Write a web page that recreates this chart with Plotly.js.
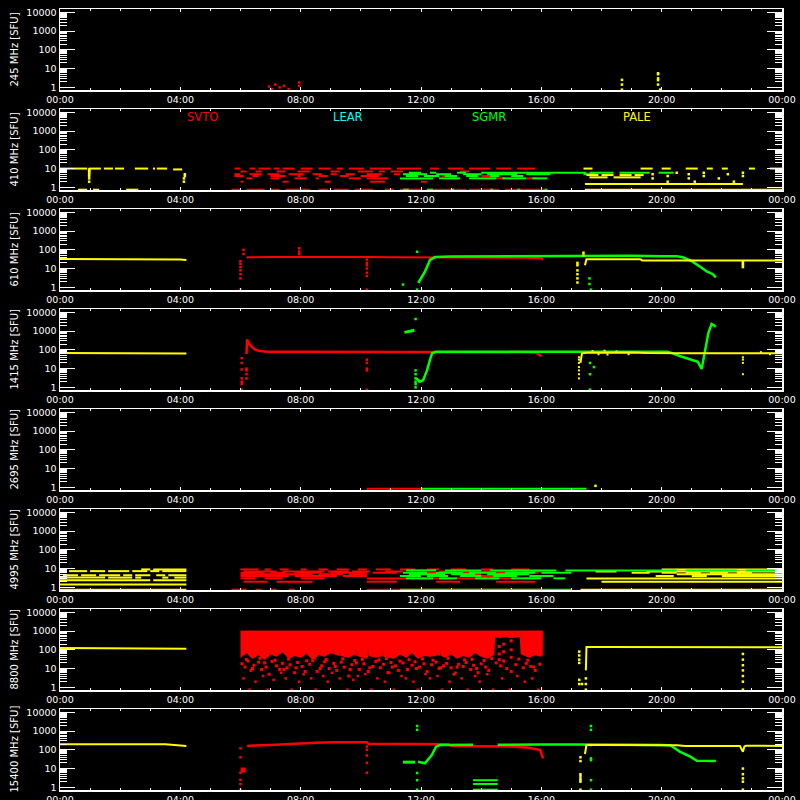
<!DOCTYPE html>
<html><head><meta charset="utf-8">
<script src="https://cdn.plot.ly/plotly-3.0.1.min.js"></script>
<style>html,body{margin:0;padding:0;background:#000;} #chart{width:800px;height:800px;}</style>
</head><body><div id="chart"></div>
<script>
// ---------------- axis / label data ----------------
const freqLabels = ['245 MHz [SFU]','410 MHz [SFU]','610 MHz [SFU]','1415 MHz [SFU]','2695 MHz [SFU]','4995 MHz [SFU]','8800 MHz [SFU]','15400 MHz [SFU]'];
const tickHours = [0,4,8,12,16,20,24];
const tickLabels = ['00:00','04:00','08:00','12:00','16:00','20:00','00:00'];
const yTickVals = [1,10,100,1000,10000];
const yTickText = ['1','10','100','1000','10000'];
const stationNames = ['SVTO','LEAR','SGMR','PALE'];
const stationHours = [4.75,9.57,14.27,19.17];

// ---------------- 245 MHz ----------------
const f245_svto_t = [6.95,7.05,7.15,7.3,7.45,7.6,7.95,7.95];
const f245_svto_v = [1.1,0.8,1.4,1.0,1.2,0.8,1.8,1.2];
const f245_pale_t = [18.68,18.68,18.68,19.88,19.88,19.88,19.88,19.88,19.95];
const f245_pale_v = [2.5,1.4,0.75,5.6,5.0,3.0,2.4,1.4,0.75];

// ---------------- 410 MHz (segments: start, end, value) ----------------
const f410_pale_s = [0.00,0.96,1.46,1.83,2.49,2.76,3.09,3.22,3.76,17.40,19.30,20.00,20.80,21.50,22.00,22.90,23.60,0.60,1.10,2.20,17.45,17.50,18.00,18.60,19.10,17.60,18.40,17.45];
const f410_pale_e = [0.90,1.36,1.76,2.13,2.76,2.93,3.16,3.56,4.06,17.70,19.70,20.30,21.20,21.70,22.20,23.10,24.00,0.90,1.30,2.60,24.00,17.90,18.40,19.00,19.40,18.20,19.30,22.70];
const f410_pale_v = [10,10,10,10,10,10,10,10,9,10,10,10,10,10,10,10,10,0.75,0.75,0.75,0.75,4.5,4.5,4.5,4.5,3.4,3.4,1.5];
const f410_paleDot_t = [0.97,0.97,0.97,0.97,0.97,0.97,0.97,0.97,4.12,4.12,4.15,4.15,19.7,19.7,20.2,20.2,20.5,20.9,20.9,21.1,21.4,21.4,21.9,22.2,22.4,22.7,22.7];
const f410_paleDot_v = [2,3,4,5,6,7,8,9,2,3,4,5,3,5,2,4,6,3,5,2,4,6,3,5,2,4,6];
const f410_svto_s = [5.8,6.3,6.6,7.1,7.4,8.0,8.6,9.2,9.6,10.3,11.2,12.3,12.9,13.6,14.5,15.2, 6.0,6.5,7.2,7.9,9.0,9.9,10.6,11.0,13.3, 5.8,6.3,6.9,7.6,8.4,9.0,9.5,10.2,11.1, 5.8,6.4,7.0,7.9,8.6,9.3,10.0,12.7,14.0,15.0, 6.2,7.0,7.8,8.5,9.6,10.2,13.0,14.3,15.5, 6.0,7.4,8.8,10.3,12.0, 5.7,6.2,7.0,7.5,8.6,9.1,9.8,10.8,11.3,12.3,13.6,14.8];
const f410_svto_e = [6.0,6.5,7.0,7.3,7.8,8.4,9.0,9.4,10.1,11.0,12.0,12.6,13.4,14.3,15.0,15.8, 6.2,6.7,7.5,8.3,9.3,10.4,10.8,11.4,13.6, 6.0,6.7,7.3,8.1,8.7,9.2,9.8,10.7,11.3, 6.1,6.6,7.5,8.0,8.9,9.6,10.6,13.0,14.4,15.3, 6.4,7.3,8.2,8.6,10.0,10.9,13.2,14.8,15.9, 6.1,7.6,9.0,10.8,12.2, 6.0,6.8,7.3,8.3,8.9,9.6,10.4,11.1,12.0,13.5,14.6,16.1];
const f410_svto_v = [10,10,10,10,10,10,10,10,10,10,10,10,10,10,10,10, 7,7,7,7,7,7,7,7,7, 5,5,5,5,5,5,5,5,5, 4,4,4,4,4,4,4,4,4,4, 3,3,3,3,3,3,3,3,3, 2,2,2,2,2, 0.75,0.75,0.75,0.75,0.75,0.75,0.75,0.75,0.75,0.75,0.75,0.75];
const f410_sgmr_s = [11.6,12.3,13.2,14.0,17.6,18.6,19.9, 11.4,12.5,13.4,14.2,15.5,17.4, 11.5,12.1,12.8,13.5,14.3,15.0, 11.3,12.6,13.6,14.7,15.7, 11.4,12.2,13.0,14.3,15.2,16.1];
const f410_sgmr_e = [12.0,12.5,13.5,17.5,18.4,19.6,20.4, 12.2,13.0,14.0,15.2,16.3,17.8, 11.9,12.6,13.2,13.9,14.6,15.4, 12.4,13.3,14.5,15.5,16.2, 11.6,12.4,13.1,14.4,15.3,16.2];
const f410_sgmr_v = [6,6,6,6,6,6,6, 5,5,5,5,5,5, 4,4,4,4,4,4, 3,3,3,3,3, 0.75,0.75,0.75,0.75,0.75,0.75];

// ---------------- 610 MHz ----------------
const f610_pale1_t = [0,1,2,3,3.5,4.0,4.2];
const f610_pale1_v = [32,32,32,31,31,30,29];
const f610_svto_t = [6.2,6.25,7.0,8.0,9.0,10.2,10.25,11,12,13,14,15,15.5,16.0,16.06];
const f610_svto_v = [38,40,41,42,41,42,41,40,40,41,41,39,38,35,30];
const f610_svtoDot_t = [6.0,6.0,6.0,6.0,6.0,6.0,6.1,6.1,7.95,7.95,7.95,10.2,10.2,10.2,10.2,10.2,10.2,10.2,6.0];
const f610_svtoDot_v = [3,5,8,12,18,25,100,60,120,80,60,30,20,15,10,6,4,0.75,0.75];
const f610_sgmr_t = [11.91,12.13,12.3,12.47,13,14,15,16,17,18,19,20,20.5,20.7,21.0,21.28,21.5,21.7,21.8];
const f610_sgmr_v = [1.7,6.8,29,41,44,45,46,46,47,48,48,46,45,40,25,12.6,7,5,3.4];
const f610_sgmrDot_t = [11.4,11.87,11.87,17.6,17.6,17.65];
const f610_sgmrDot_v = [1.4,0.75,79,3,1.5,0.75];
const f610_pale2_t = [17.45,17.5,18,19,19.3,19.35,20,21,22,22.7,23,24];
const f610_pale2_v = [15,31,31,31,31,27,27,27,27,27,27,27];
const f610_paleDot_t = [17.2,17.2,17.2,17.2,17.2,17.2,17.4,17.4,22.7,22.7,22.7,22.7];
const f610_paleDot_v = [20,15,8,5,3,1.8,70,50,22,18,15,12];

// ---------------- 1415 MHz ----------------
const f1415_pale1_t = [0,1,2,3,3.3,3.5,4.0,4.2];
const f1415_pale1_v = [68,68,69,68,68,66,66,64];
const f1415_svto_t = [6.2,6.22,6.3,6.4,6.5,6.6,6.8,7,8,9,10,10.2,10.3,11,12,13,14,15,15.8,16.0];
const f1415_svto_v = [60,350,200,130,100,90,82,78,78,78,78,78,76,77,77,76,76,76,75,45];
const f1415_svtoDot_t = [6.04,6.04,6.04,6.04,6.04,6.04,6.04,6.2,6.2,6.2,6.2,10.2,10.2,10.2,10.2,10.2];
const f1415_svtoDot_v = [0.75,1.5,2,3,9,20,36,3,5,8,10,30,20,10,8,0.75];
const f1415_sgmrHi_t = [11.45,11.55,11.65,11.78];
const f1415_sgmrHi_v = [850,900,1000,1100];
const f1415_sgmr_t = [11.85,11.95,12.07,12.2,12.3,12.37,12.5,13,14,15,16,17,18,19,20,20.2,20.6,20.95,21.2,21.33,21.44,21.55,21.66,21.8];
const f1415_sgmr_v = [3,2,2.4,8,30,65,78,80,80,80,80,80,80,80,80,80,47,31,23,9.5,79,760,2400,1700];
const f1415_sgmrDot_t = [11.82,11.82,11.82,11.82,11.82,11.82,11.82,17.62,17.62,17.62,17.75];
const f1415_sgmrDot_v = [1,1.5,2,3,5,8,4400,20,5,0.75,12];
const f1415_pale2_t = [17.3,17.35,17.5,18,19,19.5,20,21,22,22.7,23,23.5,24];
const f1415_pale2_v = [20,65,70,72,72,68,66,66,66,66,66,66,65];
const f1415_paleDot_t = [17.25,17.25,17.25,17.25,17.25,17.25,17.25,22.7,22.7,22.7,22.7,17.7,17.9,18.1,18.2,18.5,18.9,23.3,23.6,23.8];
const f1415_paleDot_v = [40,30,20,12,8,5,3,40,30,20,5,85,58,90,56,82,58,75,58,72];

// ---------------- 2695 MHz ----------------
const f2695_svto_t = [10.2,12.0];
const f2695_svto_v = [0.85,0.85];
const f2695_sgmr_t = [12.0,17.5];
const f2695_sgmr_v = [0.85,0.85];
const f2695_paleDot_t = [17.8];
const f2695_paleDot_v = [1.2];

// ---------------- 4995 MHz (segments) ----------------
const f4995_pale_s = [0.3,1.0,1.6,2.4,3.0,3.4, 0.0,2.7,3.1, 0.1,0.7,1.3,2.1,2.5,3.2,3.6, 0.0,1.6,2.5,3.4,3.8, 0.0,3.1, 0.0, 0.0, 20.0, 17.8,19.5, 19.0,20.0,20.8,21.6,22.5, 20.5, 19.8,21.0,22.0, 17.5, 18.0, 17.3];
const f4995_pale_e = [0.9,1.5,2.3,2.9,3.3,4.2, 0.2,3.0,4.2, 0.6,1.2,2.0,2.4,3.0,3.5,4.2, 1.5,2.4,2.7,3.6,4.2, 3.0,4.2, 4.2, 4.2, 24.0, 18.5,24.0, 19.6,20.5,21.3,22.2,23.0, 24.0, 20.4,21.5,24.0, 24.0, 24.0, 24.0];
const f4995_pale_v = [7.3,7.3,7.3,7.3,7.3,7.3, 9,9,9, 4.4,4.4,4.4,4.4,4.4,4.4,4.4, 3.3,3.3,3.3,3.3,3.3, 2.4,2.4, 1.4, 0.75, 9, 7,7, 6,6,6,6,6, 5, 4,4,4, 3, 2, 0.75];
const f4995_svto_s = [6.0,6.8,7.3,8.0,8.6,9.2,9.9,10.5,11.3,12.2,13.0,14.0,15.0, 6.1,7.4,8.9,9.7,10.8,12.6,13.4,14.5,15.4, 6.0,7.0,7.8,9.0,10.4,11.6,12.8,14.2,15.2, 6.0,8.6,9.6,11.8,13.4,14.6, 6.0,7.8,9.4,13.6, 6.0,6.8,8.0,10.2,11.9,13.2,14.3,15.4, 6.1,7.2,10.2,12.5,14.5, 5.7,6.5,7.0,7.6,10.2];
const f4995_svto_e = [6.6,7.0,7.6,8.2,8.9,9.6,10.2,11.0,11.8,12.6,13.5,14.4,15.6, 7.2,8.8,9.6,10.3,11.4,13.2,14.3,15.2,16.0, 6.8,7.5,8.7,10.2,11.2,12.5,13.9,14.9,15.9, 8.4,9.4,10.2,12.3,14.0,15.5, 7.6,9.2,10.2,14.8, 6.5,7.4,8.8,11.8,13.0,14.2,15.2,16.0, 6.9,8.4,11.2,13.3,15.8, 6.2,6.7,7.2,7.8,16.0];
const f4995_svto_v = [9,9,9,9,9,9,9,9,9,9,9,9,9, 7,7,7,7,7,7,7,7,7, 6,6,6,6,6,6,6,6,6, 5,5,5,5,5,5, 4,4,4,4, 3,3,3,3,3,3,3,3, 2,2,2,2,2, 0.75,0.75,0.75,0.75,0.75];
const f4995_sgmr_s = [11.5,12.8,14.3,16.8,20.8,22.8, 11.4,12.5,13.6,14.8,16.0, 11.6,13.0,14.2, 11.3,12.2,13.3,14.4,15.6, 11.5,12.6,13.8,15.0,16.4, 11.3];
const f4995_sgmr_e = [12.5,14.0,16.5,20.5,22.5,24.0, 12.2,13.4,14.5,15.8,17.0, 12.8,13.8,15.6, 12.0,12.9,14.0,15.2,16.4, 12.4,13.2,14.6,16.0,16.8, 17.0];
const f4995_sgmr_v = [8,8,8,8,8,8, 6,6,6,6,6, 5,5,5, 4,4,4,4,4, 3,3,3,3,3, 0.75];

// ---------------- 8800 MHz ----------------
const f8800_pale1_t = [0,1,2,3,3.5,4,4.2];
const f8800_pale1_v = [125,125,125,122,120,118,115];
const f8800_svtoTop_t = [6.0,16.05];
const f8800_svtoTop_v = [1000,1000];
const f8800_svtoLow_t = [6.0,6.2,6.4,6.6,6.8,7.0,7.2,7.4,7.6,7.8,8.0,8.2,8.4,8.6,8.8,9.0,9.08,9.1,9.12,9.28,9.3,9.32,9.6,9.8,9.83,9.85,9.87,10.0,10.2,10.23,10.25,10.27,10.5,10.7,10.73,10.75,10.77,11.1,11.3,11.5,11.7,11.9,12.1,12.3,12.6,12.63,12.65,12.67,12.8,13.0,13.2,13.4,13.6,13.8,14.0,14.2,14.42,14.45,14.6,14.8,15.0,15.3,15.33,15.6,15.8,16.0,16.05];
const f8800_svtoLow_v = [40,70,35,55,30,60,45,80,35,50,40,65,30,55,45,70,60,300,60,50,400,50,40,60,50,350,50,45,35,50,400,50,40,50,45,300,45,35,60,40,70,35,50,45,55,50,300,50,40,60,35,50,40,70,45,35,55,500,450,500,450,500,60,40,55,45,60];
const f8800_svtoDot_t = [6.05,6.15,6.25,6.35,6.45,6.6,6.7,6.8,6.95,7.05,7.2,7.3,7.4,7.55,7.65,7.8,7.9,8.05,8.15,8.3,8.4,8.55,8.7,8.8,8.95,9.1,9.2,9.35,9.45,9.6,9.7,9.85,9.95,10.1,10.25,10.4,10.5,10.65,10.75,10.9,11.0,11.15,11.25,11.4,11.55,11.7,11.8,11.95,12.1,12.2,12.35,12.5,12.6,12.75,12.85,13.0,13.1,13.25,13.4,13.5,13.65,13.75,13.9,14.0,14.15,14.25,14.5,14.65,14.85,15.0,15.15,15.4,15.5,15.65,15.8,15.95];
const f8800_svtoDot_v = [18,12,25,8,15,22,9,20,5,24,14,9,19,11,16,6,21,13,7,17,26,7,14,23,10,19,8,22,12,4,16,20,9,18,7,13,24,11,17,6,21,14,8,20,9,15,23,12,18,7,16,22,10,14,19,11,5,17,13,21,9,15,6,18,12,8,20,14,10,7,16,11,19,13,8,17];
const f8800_svtoDot2_t = [6.1,6.3,6.5,6.75,6.9,7.1,7.35,7.5,7.7,7.95,8.1,8.35,8.5,8.75,8.9,9.05,9.3,9.55,9.75,9.9,10.15,10.35,10.55,10.8,10.95,11.1,11.35,11.5,11.75,11.9,12.15,12.3,12.55,12.7,12.95,13.15,13.35,13.55,13.8,13.95,14.2,14.4,14.7,14.95,15.2,15.45,15.7,15.9];
const f8800_svtoDot2_v = [3,0.75,2,4,0.75,2.5,6,3,0.75,2,5,3,0.75,4,2,6,3,0.75,2.5,4,5,0.75,3,2,6,0.75,4,3,2,0.75,5,3,4,0.75,2,6,3,0.75,4,2,5,0.75,3,0.75,4,2,3,0.75];
const f8800_svtoDot3_t = [6.2,6.4,6.65,6.85,7.15,7.45,7.6,7.85,8.2,8.45,8.65,8.85,9.15,9.4,9.65,9.8,10.05,10.3,10.6,10.85,11.05,11.3,11.6,11.85,12.05,12.4,12.65,12.9,13.2,13.45,13.7,13.85,14.1,14.35,14.6,14.6,14.6,14.75,14.75,14.75,15.0,15.0,15.0,15.25,15.55,15.75];
const f8800_svtoDot3_v = [30,10,35,12,28,9,32,11,26,36,10,30,13,33,9,27,31,11,29,34,12,25,30,10,33,28,11,35,12,29,31,10,27,34,30,60,150,25,80,200,40,100,300,32,28,12];
const f8800_pale2_t = [17.48,17.5,18,19,20,21,22,22.6,22.7,22.8,23,24];
const f8800_pale2_v = [8,140,142,142,142,140,140,140,140,140,140,138];
const f8800_paleDot_t = [17.26,17.26,17.26,17.26,17.26,17.26,17.35,17.48,17.48,17.48,22.7,22.7,22.7,22.7,22.7,22.7,22.7];
const f8800_paleDot_v = [80,50,30,20,2.5,1.5,1.5,3,1.5,0.75,60,30,15,8,4,2,0.75];

// ---------------- 15400 MHz ----------------
const f15400_pale1_t = [0,1,2,3,3.5,3.8,4.0,4.2];
const f15400_pale1_v = [200,200,200,200,195,180,170,160];
const f15400_svto_t = [6.22,6.3,7,7.5,8,8.5,9.08,9.5,10.0,10.2,10.25,11,11.3,12.9,13.0,14,15,15.6,15.96,16.06];
const f15400_svto_v = [160,165,180,200,222,235,250,250,250,250,213,210,204,200,160,160,150,130,97,35];
const f15400_svtoDot_t = [6.0,6.0,6.0,6.0,6.0,6.0,10.2,10.2,10.2,10.2,10.2];
const f15400_svtoDot_v = [120,40,6,2.5,1.5,0.75,150,100,50,20,6];
const f15400_svtoBig_t = [6.09];
const f15400_svtoBig_v = [8.4];
const f15400_sgmr1_t = [11.4,11.8];
const f15400_sgmr1_v = [22,22];
const f15400_sgmr_t = [11.9,12.13,12.36,12.5,12.63,13,13.73,null,14.55,15,16,17,17.5,18,19,20,20.3,20.6,20.95,21.17,21.5,21.8];
const f15400_sgmr_v = [23,19,53,147,180,185,185,null,185,190,190,190,185,185,185,180,170,80,43,26,25,25];
const f15400_sgmrLow_s = [13.73,13.73,13.73];
const f15400_sgmrLow_e = [14.55,14.55,14.55];
const f15400_sgmrLow_v = [2.4,1.5,0.75];
const f15400_sgmrDot_t = [11.87,11.87,11.87,11.87,11.87,17.65,17.65,17.65,17.65,17.65,17.65,17.65];
const f15400_sgmrDot_v = [1860,1160,5.8,2.4,0.75,1860,1160,180,35,28,2.4,0.75];
const f15400_pale2_t = [17.45,17.5,18,19,20,20.5,20.8,21,22,22.6,22.7,22.75,22.8,23,24];
const f15400_pale2_v = [60,180,180,182,182,175,160,160,162,162,79,150,165,165,160];
const f15400_paleDot_t = [17.3,17.3,17.3,17.3,17.3,17.3,17.3,17.3,22.7,22.7,22.7,22.7,22.7];
const f15400_paleDot_v = [40,25,5,4,3,2.4,2,0.75,10,5,3,2,0.75];

// ---------------- build ----------------
const C = {SVTO:'#ff0000', LEAR:'#00ffff', SGMR:'#00ff00', PALE:'#ffff00'};
function ax(p){return p===1?['x','y']:['x'+p,'y'+p];}
function lineT(p,t,v,c,w){const a=ax(p);return {type:'scatter',mode:'lines',x:t,y:v,xaxis:a[0],yaxis:a[1],line:{color:c,width:w||2},hoverinfo:'skip',showlegend:false,connectgaps:false};}
function dotT(p,t,v,c,s){const a=ax(p);return {type:'scatter',mode:'markers',x:t,y:v,xaxis:a[0],yaxis:a[1],marker:{color:c,size:s||2.5,symbol:'square',line:{width:0}},hoverinfo:'skip',showlegend:false};}
function segT(p,s,e,v,c,w){const x=[],y=[];for(let k=0;k<s.length;k++){x.push(s[k],e[k],null);y.push(v[k],v[k],null);}return lineT(p,x,y,c,w||2);}
function fillT(p,t,v,c){const a=ax(p);return {type:'scatter',mode:'lines',x:t,y:v,xaxis:a[0],yaxis:a[1],line:{color:c,width:1},fill:'tonexty',fillcolor:c,hoverinfo:'skip',showlegend:false};}

const traces = [
  dotT(1,f245_svto_t,f245_svto_v,C.SVTO), dotT(1,f245_pale_t,f245_pale_v,C.PALE),
  segT(2,f410_svto_s,f410_svto_e,f410_svto_v,C.SVTO), segT(2,f410_sgmr_s,f410_sgmr_e,f410_sgmr_v,C.SGMR),
  segT(2,f410_pale_s,f410_pale_e,f410_pale_v,C.PALE), dotT(2,f410_paleDot_t,f410_paleDot_v,C.PALE),
  lineT(3,f610_pale1_t,f610_pale1_v,C.PALE), lineT(3,f610_svto_t,f610_svto_v,C.SVTO), dotT(3,f610_svtoDot_t,f610_svtoDot_v,C.SVTO),
  lineT(3,f610_sgmr_t,f610_sgmr_v,C.SGMR,2.5), dotT(3,f610_sgmrDot_t,f610_sgmrDot_v,C.SGMR),
  lineT(3,f610_pale2_t,f610_pale2_v,C.PALE), dotT(3,f610_paleDot_t,f610_paleDot_v,C.PALE),
  lineT(4,f1415_pale1_t,f1415_pale1_v,C.PALE), lineT(4,f1415_svto_t,f1415_svto_v,C.SVTO,2.5), dotT(4,f1415_svtoDot_t,f1415_svtoDot_v,C.SVTO),
  lineT(4,f1415_sgmrHi_t,f1415_sgmrHi_v,C.SGMR,3), lineT(4,f1415_sgmr_t,f1415_sgmr_v,C.SGMR,2.5), dotT(4,f1415_sgmrDot_t,f1415_sgmrDot_v,C.SGMR),
  lineT(4,f1415_pale2_t,f1415_pale2_v,C.PALE), dotT(4,f1415_paleDot_t,f1415_paleDot_v,C.PALE,2),
  lineT(5,f2695_svto_t,f2695_svto_v,C.SVTO), lineT(5,f2695_sgmr_t,f2695_sgmr_v,C.SGMR), dotT(5,f2695_paleDot_t,f2695_paleDot_v,C.PALE),
  segT(6,f4995_pale_s,f4995_pale_e,f4995_pale_v,C.PALE), segT(6,f4995_svto_s,f4995_svto_e,f4995_svto_v,C.SVTO), segT(6,f4995_sgmr_s,f4995_sgmr_e,f4995_sgmr_v,C.SGMR),
  lineT(7,f8800_pale1_t,f8800_pale1_v,C.PALE),
  lineT(7,f8800_svtoTop_t,f8800_svtoTop_v,C.SVTO,1), fillT(7,f8800_svtoLow_t,f8800_svtoLow_v,C.SVTO),
  dotT(7,f8800_svtoDot_t,f8800_svtoDot_v,C.SVTO,3), dotT(7,f8800_svtoDot2_t,f8800_svtoDot2_v,C.SVTO,2.5), dotT(7,f8800_svtoDot3_t,f8800_svtoDot3_v,C.SVTO,3),
  lineT(7,f8800_pale2_t,f8800_pale2_v,C.PALE), dotT(7,f8800_paleDot_t,f8800_paleDot_v,C.PALE),
  lineT(8,f15400_pale1_t,f15400_pale1_v,C.PALE), lineT(8,f15400_svto_t,f15400_svto_v,C.SVTO,2.5), dotT(8,f15400_svtoDot_t,f15400_svtoDot_v,C.SVTO),
  dotT(8,f15400_svtoBig_t,f15400_svtoBig_v,C.SVTO,5),
  lineT(8,f15400_sgmr1_t,f15400_sgmr1_v,C.SGMR,3), lineT(8,f15400_sgmr_t,f15400_sgmr_v,C.SGMR,2.5),
  segT(8,f15400_sgmrLow_s,f15400_sgmrLow_e,f15400_sgmrLow_v,C.SGMR), dotT(8,f15400_sgmrDot_t,f15400_sgmrDot_v,C.SGMR),
  lineT(8,f15400_pale2_t,f15400_pale2_v,C.PALE), dotT(8,f15400_paleDot_t,f15400_paleDot_v,C.PALE)
];

const W = 800, H = 800;
const minorVals = [];
[1,10,100,1000].forEach(d=>{for(let k=2;k<=9;k++) minorVals.push(k*d);});
const FONT = 'DejaVu Sans, Liberation Sans, sans-serif';
const layout = {
  width:W, height:H, margin:{l:0,r:0,t:0,b:0},
  paper_bgcolor:'#000', plot_bgcolor:'#000', showlegend:false,
  font:{family:FONT,color:'#fff',size:10},
  annotations:[], shapes:[]
};
for (let i=0;i<8;i++){
  const p=i+1, top=9+100*i, bot=90+100*i;
  const xk = p===1?'xaxis':'xaxis'+p, yk = p===1?'yaxis':'yaxis'+p;
  layout[xk] = {domain:[60/W,782/W], range:[0,24], anchor:ax(p)[1], tickmode:'array', tickvals:tickHours, ticktext:tickLabels,
    ticks:'inside', ticklen:3, tickwidth:1, tickcolor:'#fff', showline:true, linecolor:'#fff', linewidth:1.5, mirror:'allticks',
    showgrid:false, zeroline:false, tickfont:{family:FONT,size:9.5,color:'#fff'},
    minor:{tickmode:'linear', tick0:0, dtick:1, ticks:'inside', ticklen:2, tickcolor:'#fff', showgrid:false}};
  layout[yk] = {domain:[1-bot/H,1-top/H], type:'log', range:[Math.log10(0.72),Math.log10(15000)], anchor:ax(p)[0],
    tickmode:'array', tickvals:yTickVals, ticktext:yTickText, ticks:'inside', ticklen:15, tickwidth:1, tickcolor:'#fff',
    showline:true, linecolor:'#fff', linewidth:1.5, mirror:'allticks', showgrid:false, zeroline:false,
    tickfont:{family:FONT,size:9.5,color:'#fff'},
    minor:{tickmode:'array', tickvals:minorVals, ticks:'inside', ticklen:7, tickcolor:'#fff', showgrid:false}};
  layout.annotations.push({xref:'paper', yref:'paper', x:14/W, y:1-(top+bot)/2/H, text:freqLabels[i], textangle:-90,
    showarrow:false, font:{family:FONT,size:10,color:'#fff'}, xanchor:'center', yanchor:'middle'});
}
const stColors = [C.SVTO,C.LEAR,C.SGMR,C.PALE];
stationNames.forEach((n,k)=>{
  layout.annotations.push({xref:'x2', yref:'paper', x:stationHours[k], y:1-117/H, text:n, showarrow:false,
    font:{family:FONT,size:11.5,color:stColors[k]}, xanchor:'center', yanchor:'middle'});
});
Plotly.newPlot('chart', traces, layout, {staticPlot:true, displayModeBar:false});
</script></body></html>
